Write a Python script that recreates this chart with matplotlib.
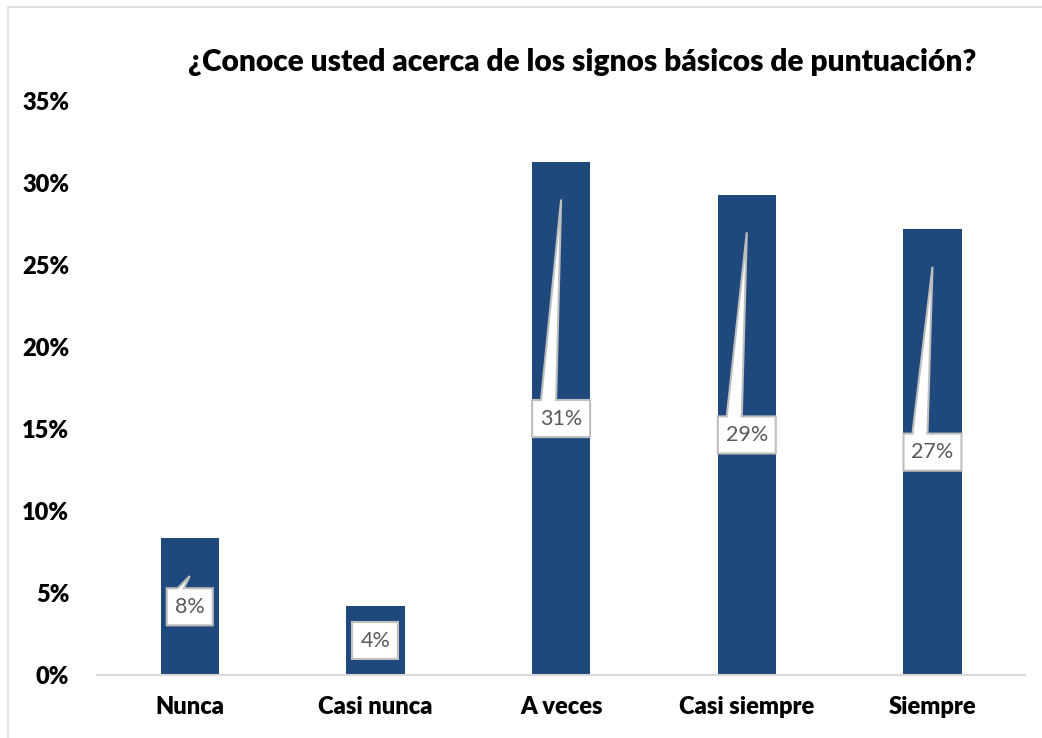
import numpy as np
import matplotlib.pyplot as plt
from matplotlib.patches import Polygon, Rectangle

categorias = ['Nunca', 'Casi nunca', 'A veces', 'Casi siempre', 'Siempre']
valores = [0.0835, 0.042, 0.313, 0.293, 0.272]
etiquetas = ['8%', '4%', '31%', '29%', '27%']
ticks_y = [0, 0.05, 0.10, 0.15, 0.20, 0.25, 0.30, 0.35]
ticks_y_txt = ['0%', '5%', '10%', '15%', '20%', '25%', '30%', '35%']

azul = '#1F497D'
fuente = 'Lato'

fig = plt.figure(figsize=(10.42, 7.38), dpi=100)
ax = fig.add_axes([0.093, 0.085, 0.891, 0.778])

x = np.arange(len(categorias))
ax.bar(x, valores, width=0.315, color=azul, zorder=2)

ax.set_xlim(-0.5, 4.5)
ax.set_ylim(0, 0.35)
ax.set_yticks(ticks_y)
ax.set_yticklabels(ticks_y_txt, fontsize=17, fontweight='heavy', family=fuente)
ax.set_xticks(x)
ax.set_xticklabels(categorias, fontsize=17, fontweight='heavy', family=fuente)
ax.tick_params(length=0)
ax.tick_params(axis='y', pad=20)
ax.tick_params(axis='x', pad=15)
for s in ['top', 'right', 'left']:
    ax.spines[s].set_visible(False)
ax.spines['bottom'].set_color('#d9d9d9')
ax.spines['bottom'].set_linewidth(1.5)

# etiquetas tipo globo en el centro de cada barra
hh = 0.0113
off = 0.023
for xi, v, t in zip(x, valores, etiquetas):
    yc = v / 2
    hw = 0.156 if len(t) == 3 else 0.124
    top = yc + hh
    tip = v - off
    pts = [(xi - hw, yc - hh), (xi + hw, yc - hh), (xi + hw, top)]
    if tip > top + 0.005:
        if len(t) == 3:
            b1, b2 = -0.027, -0.108
        else:
            b1, b2 = -0.032, -0.065
        pts += [(xi + b1, top), (xi, tip), (xi + b2, top)]
    pts += [(xi - hw, top)]
    ax.add_patch(Polygon(pts, closed=True, facecolor='white', edgecolor='#bfbfbf',
                         linewidth=1.5, zorder=3))
    ax.text(xi, yc, t, ha='center', va='center', fontsize=15.5, color='#595959',
            family=fuente, zorder=4)

fig.text(0.559, 0.916, '¿Conoce usted acerca de los signos básicos de puntuación?',
         ha='center', va='center', fontsize=21.5, fontweight='heavy', family=fuente)

# borde del area del grafico
fig.patches.append(Rectangle((8 / 1042, -0.1), 1.2, 1 - 7 / 738 + 0.1,
                             transform=fig.transFigure, fill=False,
                             edgecolor='#d9d9d9', linewidth=1.2))

plt.savefig('out.png', dpi=100)
